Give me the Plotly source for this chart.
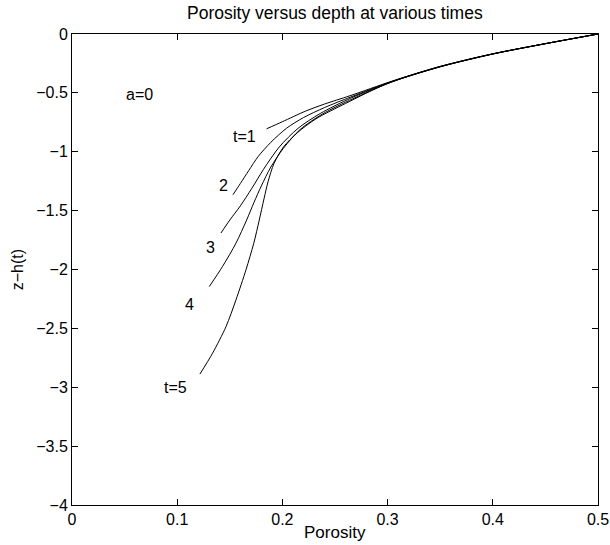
import plotly.graph_objects as go

# Porosity (x) and depth z-h(t) (y) for each time
t1_phi = [0.185, 0.200, 0.222, 0.240, 0.264, 0.305, 0.350, 0.400, 0.450, 0.500]
t1_z = [-0.805, -0.745, -0.655, -0.595, -0.525, -0.398, -0.275, -0.168, -0.082, 0.0]

t2_phi = [0.153, 0.160, 0.168, 0.177, 0.189, 0.204, 0.220, 0.240, 0.265, 0.305, 0.350, 0.400, 0.450, 0.500]
t2_z = [-1.365, -1.27, -1.16, -1.04, -0.92, -0.80, -0.71, -0.625, -0.535, -0.400, -0.276, -0.169, -0.082, 0.0]

t3_phi = [0.1416, 0.150, 0.160, 0.171, 0.182, 0.197, 0.215, 0.236, 0.265, 0.305, 0.350, 0.400, 0.450, 0.500]
t3_z = [-1.69, -1.58, -1.46, -1.31, -1.15, -0.96, -0.80, -0.675, -0.545, -0.402, -0.277, -0.169, -0.082, 0.0]

t4_phi = [0.1305, 0.1431, 0.156, 0.166, 0.173, 0.180, 0.189, 0.201, 0.217, 0.238, 0.267, 0.305, 0.350, 0.400, 0.450, 0.500]
t4_z = [-2.145, -1.974, -1.774, -1.58, -1.43, -1.29, -1.13, -0.97, -0.81, -0.68, -0.55, -0.404, -0.278, -0.170, -0.082, 0.0]

t5_phi = [0.1216, 0.1336, 0.1464, 0.1559, 0.1654, 0.1727, 0.178, 0.1825, 0.1865, 0.192, 0.201, 0.214, 0.232, 0.260, 0.300, 0.350, 0.400, 0.450, 0.500]
t5_z = [-2.888, -2.711, -2.485, -2.257, -2.002, -1.78, -1.58, -1.40, -1.25, -1.10, -0.96, -0.84, -0.72, -0.59, -0.42, -0.279, -0.170, -0.082, 0.0]

curves = [(t1_phi, t1_z), (t2_phi, t2_z), (t3_phi, t3_z), (t4_phi, t4_z), (t5_phi, t5_z)]

label_text = ["t=1", "2", "3", "4", "t=5", "a=0"]
label_x = [0.164, 0.144, 0.132, 0.112, 0.098, 0.064]
label_y = [-0.872, -1.29, -1.81, -2.30, -3.0, -0.51]

x_ticks = [0, 0.1, 0.2, 0.3, 0.4, 0.5]
x_ticktext = ["0", "0.1", "0.2", "0.3", "0.4", "0.5"]
y_ticks = [0, -0.5, -1, -1.5, -2, -2.5, -3, -3.5, -4]
y_ticktext = ["0", "−0.5", "−1", "−1.5", "−2", "−2.5", "−3", "−3.5", "−4"]

FONT = "Liberation Sans, Arial, Helvetica, sans-serif"

fig = go.Figure()
for phi, z in curves:
    fig.add_trace(go.Scatter(x=phi, y=z, mode="lines",
                             line=dict(color="black", width=1, shape="spline", smoothing=0.8),
                             showlegend=False, hoverinfo="skip"))

for txt, lx, ly in zip(label_text, label_x, label_y):
    fig.add_annotation(x=lx, y=ly, text=txt, showarrow=False,
                       xanchor="center", yanchor="middle",
                       font=dict(family=FONT, size=16, color="black"))

fig.add_annotation(xref="paper", yref="paper", x=0.5, y=1.045, text="Porosity versus depth at various times",
                   showarrow=False, xanchor="center", yanchor="middle",
                   font=dict(family=FONT, size=17.5, color="black"))
fig.add_annotation(xref="paper", yref="paper", x=0.5, y=-0.058, text="Porosity",
                   showarrow=False, xanchor="center", yanchor="middle",
                   font=dict(family=FONT, size=17, color="black"))
fig.add_annotation(xref="paper", yref="paper", x=-0.103, y=0.5, text="z−h(t)", textangle=-90,
                   showarrow=False, xanchor="center", yanchor="middle",
                   font=dict(family=FONT, size=16, color="black"))

axis_common = dict(showline=True, linecolor="black", linewidth=1, mirror="ticks",
                   ticks="inside", ticklen=6, tickcolor="black", tickwidth=1,
                   showgrid=False, zeroline=False,
                   tickfont=dict(family=FONT, size=16, color="black"))

fig.update_xaxes(range=[0, 0.5], tickvals=x_ticks, ticktext=x_ticktext, **axis_common)
fig.update_yaxes(range=[-4, 0], tickvals=y_ticks, ticktext=y_ticktext, **axis_common)

fig.update_layout(width=610, height=545, plot_bgcolor="white", paper_bgcolor="white",
                  margin=dict(l=72, r=12, t=34, b=40, autoexpand=False))

fig.write_html("out.html")
